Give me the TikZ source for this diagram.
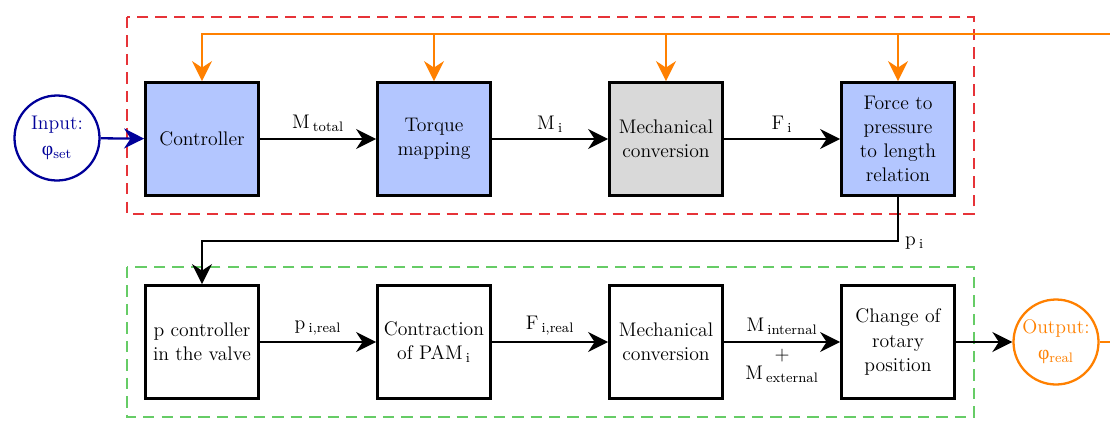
\documentclass[tikz,border=0pt]{standalone}
\usepackage{fontspec}
\newfontfamily\grkfont{Liberation Serif}
\usepackage{tikz}
\usetikzlibrary{arrows.meta}
\definecolor{blockblue}{HTML}{B3C6FF}
\definecolor{blockgray}{HTML}{D9D9D9}
\definecolor{fborange}{HTML}{FF8000}
\definecolor{inblue}{HTML}{000099}
\definecolor{framered}{HTML}{E63338}
\definecolor{framegreen}{HTML}{66CC66}
\newcommand\blockfont{\fontsize{11.2}{13.8}\selectfont}
\tikzset{%
    >={Stealth[length=4mm,width=4mm,inset=1.3mm]},
    block/.style={draw, line width=1.6pt, minimum width=2.26cm, minimum height=2.26cm, align=center, inner sep=1pt, font=\blockfont},
    sig/.style={line width=1.3pt},
    fb/.style={sig, color=fborange},
    boxframe/.style={line width=1.2pt, dash pattern=on 6.5pt off 4pt},
    port/.style={draw, circle, line width=1.3pt, minimum size=1.7cm, align=center, inner sep=0pt, font=\blockfont},
    lbl/.style={font=\blockfont}
}
\newcommand\Sig[2]{#1\,\textsubscript{#2}}
\newcommand\CtrlBlock[5]{%
    \node[block, fill=#4] (#1) at (#2,#3) {#5}
}

\begin{document}
\begin{tikzpicture}
      \useasboundingbox (0,0) rectangle (22.2,-8.42);
      \clip (0,0) rectangle (22.2,-8.42);

      \draw[boxframe, framered] (2.54,-0.34) rectangle (19.48,-4.28);
      \draw[boxframe, framegreen] (2.54,-5.34) rectangle (19.48,-8.34);

      \CtrlBlock{ctrl}{4.04}{-2.78}{blockblue}{Controller};
      \CtrlBlock{torque}{8.68}{-2.78}{blockblue}{Torque\\mapping};
      \CtrlBlock{mecht}{13.32}{-2.78}{blockgray}{Mechanical\\conversion};
      \CtrlBlock{force}{17.96}{-2.78}{blockblue}{Force to\\pressure\\to length\\relation};

      \CtrlBlock{pctrl}{4.04}{-6.84}{white}{p controller\\in the valve};
      \CtrlBlock{contr}{8.68}{-6.84}{white}{Contraction\\of \Sig{PAM}{i}};
      \CtrlBlock{mechb}{13.32}{-6.84}{white}{Mechanical\\conversion};
      \CtrlBlock{rotary}{17.96}{-6.84}{white}{Change of\\rotary\\position};

      \node[port, draw=inblue, text=inblue] (in) at (1.14,-2.76) {Input:\\[1pt]{\grkfont φ}\textsubscript{set}};
      \node[port, draw=fborange, text=fborange] (out) at (21.12,-6.84) {Output:\\[1pt]{\grkfont φ}\textsubscript{real}};

      \coordinate (fbline) at (0,-0.68);
      \coordinate (pbend) at (17.96,-4.82);

      \draw[sig, inblue, ->] (in) -- (ctrl);
      \draw[sig, ->] (ctrl) -- node[lbl, above] (lMtotal) {\Sig{M}{total}} (torque);
      \draw[sig, ->] (torque) -- node[lbl, above] (lMi) {\Sig{M}{i}} (mecht);
      \draw[sig, ->] (mecht) -- node[lbl, above] (lFi) {\Sig{F}{i}} (force);

      \draw[sig, ->] (force) -- (pbend) node[lbl, anchor=west, yshift=-1pt] (lpi) {\Sig{p}{i}} -| (pctrl);

      \draw[sig, ->] (pctrl) -- node[lbl, above] (lpreal) {\Sig{p}{i,real}} (contr);
      \draw[sig, ->] (contr) -- node[lbl, above] (lFreal) {\Sig{F}{i,real}} (mechb);
      \draw[sig, ->] (mechb) -- node[lbl, above] (lMint) {\Sig{M}{internal}} node[lbl, below, align=center] (lMext) {+\\[-3pt]\Sig{M}{external}} (rotary);
      \draw[sig, ->] (rotary) -- (out);

      \draw[fb, ->] (out.east) -- ++(0.8,0) |- (ctrl.north |- fbline) -- (ctrl.north);
      \draw[fb, ->] (torque.north |- fbline) -- (torque.north);
      \draw[fb, ->] (mecht.north |- fbline) -- (mecht.north);
      \draw[fb, ->] (force.north |- fbline) -- (force.north);
\end{tikzpicture}
\end{document}
